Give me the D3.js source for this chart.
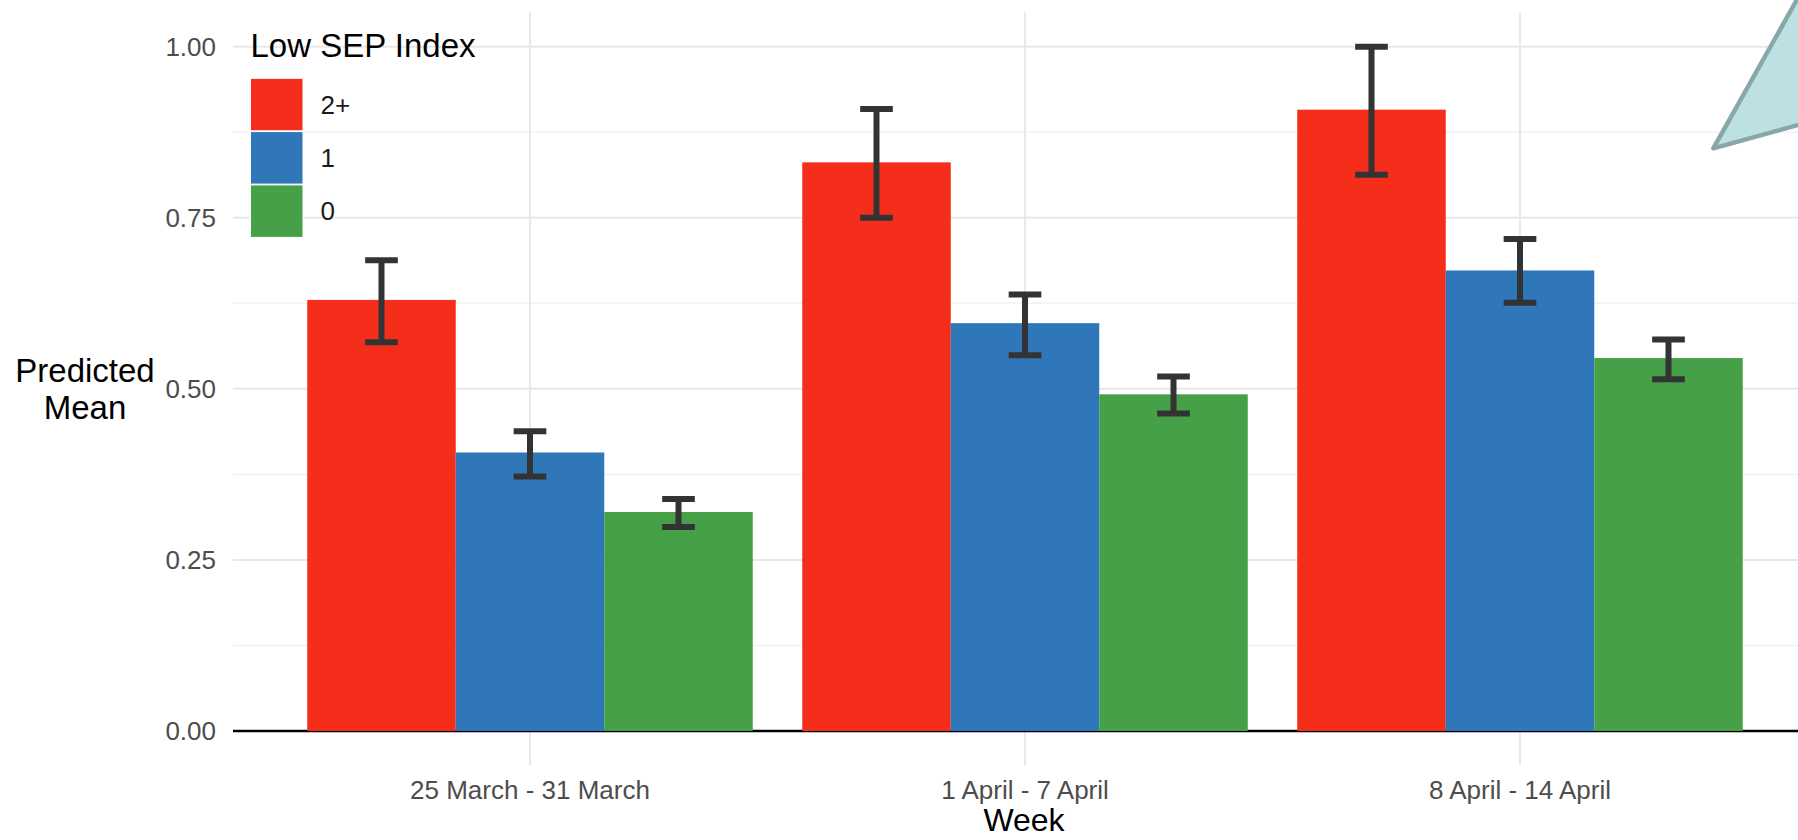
<!DOCTYPE html>
<html>
<head>
<meta charset="utf-8">
<script src="https://cdn.jsdelivr.net/npm/d3@7"></script>
<style>
  html, body { margin: 0; padding: 0; background: #ffffff; }
  svg { display: block; font-family: "Liberation Sans", Arial, sans-serif; }
</style>
</head>
<body>
<svg id="chart" width="1798" height="840"></svg>
<script>
// ---- data ----
const weeks = ["25 March - 31 March", "1 April - 7 April", "8 April - 14 April"];
const groups = ["2+", "1", "0"];
const groupColors = ["#f52e1b", "#2f77b9", "#45a047"];
// predicted means per group (rows) per week (columns)
const mean2plus = [0.630, 0.831, 0.908];
const mean1     = [0.407, 0.596, 0.673];
const mean0     = [0.320, 0.492, 0.545];
const lower2plus = [0.568, 0.750, 0.813];
const upper2plus = [0.688, 0.909, 1.000];
const lower1     = [0.372, 0.549, 0.626];
const upper1     = [0.438, 0.638, 0.719];
const lower0     = [0.298, 0.464, 0.514];
const upper0     = [0.339, 0.518, 0.572];
const yTicks = [0, 0.25, 0.5, 0.75, 1.0];
const yTickLabels = ["0.00", "0.25", "0.50", "0.75", "1.00"];
const yMinorTicks = [0.125, 0.375, 0.625, 0.875];

const means = [mean2plus, mean1, mean0];
const lowers = [lower2plus, lower1, lower0];
const uppers = [upper2plus, upper1, upper0];
const rows = [];
weeks.forEach((w, wi) => groups.forEach((g, gi) => {
  rows.push({week: w, group: g, gi: gi, mean: means[gi][wi], lo: lowers[gi][wi], hi: uppers[gi][wi]});
}));

// ---- layout ----
const svg = d3.select("#chart");
const panelLeft = 233, panelRight = 1817, panelTop = 12.5, panelBottom = 765.2;

const x = d3.scaleBand().domain(weeks).range([panelLeft, panelRight]).paddingInner(0).paddingOuter(0.1);
const dodge = d3.scaleBand().domain(groups).range([0.05 * x.bandwidth(), 0.95 * x.bandwidth()]).padding(0);
const y = d3.scaleLinear().domain([-0.05, 1.05]).range([panelBottom, panelTop]);

const color = d3.scaleOrdinal().domain(groups).range(groupColors);

// grid
const grid = svg.append("g");
grid.selectAll("line.minor").data(yMinorTicks).join("line")
  .attr("x1", panelLeft).attr("x2", panelRight)
  .attr("y1", d => y(d)).attr("y2", d => y(d))
  .attr("stroke", "#f2f2f2").attr("stroke-width", 1.5);
grid.selectAll("line.major").data(yTicks).join("line")
  .attr("x1", panelLeft).attr("x2", panelRight)
  .attr("y1", d => y(d)).attr("y2", d => y(d))
  .attr("stroke", "#e8e8e8").attr("stroke-width", 2);
grid.selectAll("line.vert").data(weeks).join("line")
  .attr("x1", d => x(d) + x.bandwidth() / 2).attr("x2", d => x(d) + x.bandwidth() / 2)
  .attr("y1", panelTop).attr("y2", panelBottom)
  .attr("stroke", "#e8e8e8").attr("stroke-width", 2);

// zero line
svg.append("line")
  .attr("x1", panelLeft).attr("x2", panelRight)
  .attr("y1", y(0)).attr("y2", y(0))
  .attr("stroke", "#000").attr("stroke-width", 2.5);

// bars
svg.append("g").selectAll("rect").data(rows).join("rect")
  .attr("x", d => x(d.week) + dodge(d.group))
  .attr("width", dodge.bandwidth())
  .attr("y", d => y(d.mean))
  .attr("height", d => y(0) - y(d.mean))
  .attr("fill", d => color(d.group));

// error bars
const capW = dodge.bandwidth() * 0.22;
const eb = svg.append("g").attr("stroke", "#333333").attr("stroke-width", 6).attr("fill", "none");
rows.forEach(d => {
  const cx = x(d.week) + dodge(d.group) + dodge.bandwidth() / 2;
  eb.append("line").attr("x1", cx).attr("x2", cx).attr("y1", y(d.hi)).attr("y2", y(d.lo));
  eb.append("line").attr("x1", cx - capW / 2).attr("x2", cx + capW / 2).attr("y1", y(d.hi)).attr("y2", y(d.hi));
  eb.append("line").attr("x1", cx - capW / 2).attr("x2", cx + capW / 2).attr("y1", y(d.lo)).attr("y2", y(d.lo));
});

// y axis tick labels
svg.append("g").selectAll("text").data(yTicks).join("text")
  .attr("x", 216).attr("y", d => y(d))
  .attr("dy", "0.35em")
  .attr("text-anchor", "end")
  .attr("font-size", 26).attr("fill", "#4d4d4d")
  .text((d, i) => yTickLabels[i]);

// x axis tick labels
svg.append("g").selectAll("text").data(weeks).join("text")
  .attr("x", d => x(d) + x.bandwidth() / 2).attr("y", 799)
  .attr("text-anchor", "middle")
  .attr("font-size", 26).attr("fill", "#4d4d4d")
  .text(d => d);

// axis titles
svg.append("text").attr("x", 1024).attr("y", 831).attr("text-anchor", "middle")
  .attr("font-size", 32).attr("fill", "#000").text("Week");
const yt = svg.append("text").attr("text-anchor", "middle").attr("font-size", 33).attr("fill", "#000");
yt.append("tspan").attr("x", 85).attr("y", 381.5).text("Predicted");
yt.append("tspan").attr("x", 85).attr("y", 418.5).text("Mean");

// legend
const lg = svg.append("g");
lg.append("text").attr("x", 250.5).attr("y", 57).attr("font-size", 33).attr("fill", "#000").text("Low SEP Index");
const keySize = 52.5;
groups.forEach((g, i) => {
  lg.append("rect").attr("x", 250.5).attr("y", 78.3 + i * (keySize + 0.8))
    .attr("width", keySize).attr("height", keySize)
    .attr("fill", color(g)).attr("stroke", "#ffffff").attr("stroke-width", 1);
  lg.append("text").attr("x", 320.5).attr("y", 78.3 + i * (keySize + 0.8) + keySize / 2)
    .attr("dy", "0.35em").attr("font-size", 26).attr("fill", "#1a1a1a").text(g);
});

// decorative callout triangle at top right
svg.append("polygon")
  .attr("points", "1713.3,148.3 1808,-20 1900,-20 1900,97")
  .attr("fill", "#bde0e3").attr("stroke", "#88a7a8").attr("stroke-width", 4.5)
  .attr("stroke-linejoin", "round");
</script>
</body>
</html>
